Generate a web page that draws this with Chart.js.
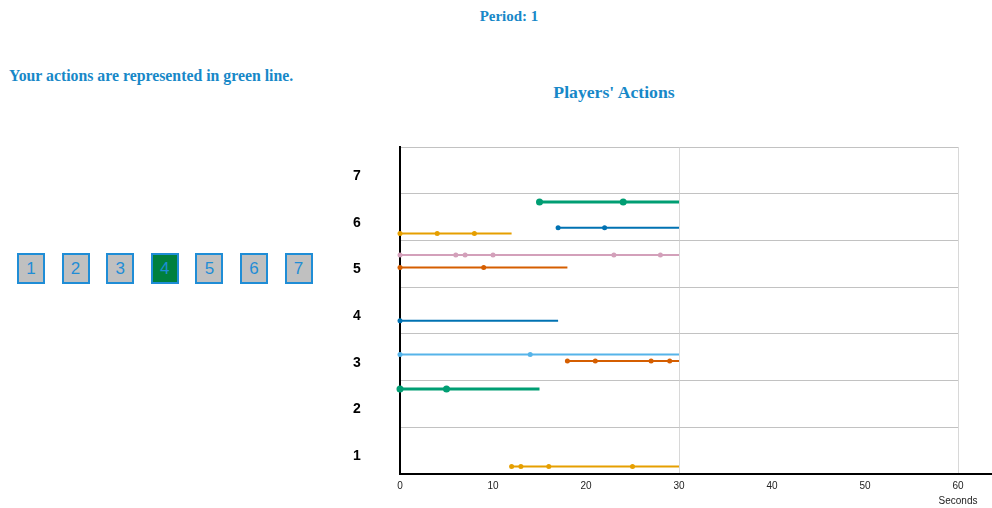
<!DOCTYPE html>
<html>
<head>
<meta charset="utf-8">
<script src="https://cdn.jsdelivr.net/npm/chart.js@4"></script>
<style>
  body { margin: 0; background: #fff; width: 992px; height: 508px; overflow: hidden; position: relative; }
  .blue-text { position: absolute; color: #1788c8; font-family: "Liberation Serif", "Times New Roman", serif; font-weight: bold; white-space: nowrap; }
  #period { left: 509px; top: 7px; transform: translateX(-50%); font-size: 15px; line-height: 18px; }
  #hint { left: 9px; top: 67px; font-size: 15.8px; line-height: 18px; }
  #chartTitle { left: 614px; top: 82px; transform: translateX(-50%); font-size: 17.7px; line-height: 20px; }
  .player-btn { position: absolute; top: 253px; width: 24px; height: 27px; border: 2px solid #1f8dd6;
    background: #c0c0c0; color: #1f8dd6; font-family: "Liberation Sans", Arial, sans-serif; font-size: 17px;
    line-height: 27px; text-align: center; }
  .player-btn.active { background: #00803e; }
  #chartBox { position: absolute; left: 330px; top: 120px; width: 662px; height: 388px; }
</style>
</head>
<body>
<div id="period" class="blue-text">Period: 1</div>
<div id="hint" class="blue-text">Your actions are represented in green line.</div>
<div id="chartTitle" class="blue-text">Players' Actions</div>
<div id="buttons"></div>
<div id="chartBox"><canvas id="actionsChart"></canvas></div>

<script>
// Players shown on the y axis and the current player
const playerLabels = ['1', '2', '3', '4', '5', '6', '7'];
const myPlayer = 4;

// One entry per action line: vertical level, times of actions (dots) and end time
const lineLevels = [5.82, 5.27, 5.15, 4.69, 4.42, 3.28, 2.56, 2.42, 1.82, 0.16];
const actionTimes = [
    [15, 24],
    [17, 22],
    [0, 4, 8],
    [0, 6, 7, 10, 23, 28],
    [0, 9],
    [0],
    [0, 14],
    [18, 21, 27, 29],
    [0, 5],
    [12, 13, 16, 25]
];
const endTimes = [30, 30, 12, 30, 18, 17, 30, 30, 15, 30];
const isMine = [true, false, false, false, false, false, false, false, true, false];

const lineColors = ['#009E73', '#0072B2', '#E69F00', '#D3A0BA', '#D55E00',
                    '#0072B2', '#56B4E9', '#D55E00', '#009E73', '#E69F00'];

document.addEventListener('DOMContentLoaded', () => {
    buildButtons();
    initActionsChart();
});

function buildButtons() {
    const wrap = document.getElementById('buttons');
    playerLabels.forEach((label, i) => {
        const b = document.createElement('div');
        b.className = 'player-btn' + (Number(label) === myPlayer ? ' active' : '');
        b.style.left = (17 + i * 44.6) + 'px';
        b.textContent = label;
        wrap.appendChild(b);
    });
}

function initActionsChart() {
    const ctx = document.getElementById('actionsChart').getContext('2d');

    const datasets = lineLevels.map((level, i) => {
        const pts = actionTimes[i].map(t => ({ x: t, y: level }));
        pts.push({ x: endTimes[i], y: level });
        const r = isMine[i] ? 3.5 : 2.5;
        return {
            data: pts,
            borderColor: lineColors[i],
            backgroundColor: lineColors[i],
            borderWidth: isMine[i] ? 3 : 2,
            pointRadius: pts.map((p, j) => j < pts.length - 1 ? r : 0),
            pointBorderWidth: 0,
            tension: 0,
            clip: false
        };
    });

    // extend the x axis line to the right edge and write the axis title under 60
    const axisExtras = {
        id: 'axisExtras',
        afterDraw(chart) {
            const c = chart.ctx;
            const xs = chart.scales.x;
            c.save();
            c.strokeStyle = '#000';
            c.lineWidth = 2;
            c.beginPath();
            c.moveTo(chart.chartArea.right - 1, xs.top);
            c.lineTo(chart.width, xs.top);
            c.stroke();
            c.fillStyle = '#222';
            c.font = '10px "Liberation Sans", Arial, sans-serif';
            c.textAlign = 'center';
            c.textBaseline = 'middle';
            c.fillText('Seconds', xs.getPixelForValue(60), 381);
            c.restore();
        }
    };

    new Chart(ctx, {
        type: 'line',
        data: { datasets: datasets },
        options: {
            responsive: true,
            maintainAspectRatio: false,
            animation: false,
            layout: { padding: { top: 27, right: 34, bottom: 0, left: 23 } },
            plugins: {
                legend: { display: false },
                tooltip: { enabled: false }
            },
            scales: {
                x: {
                    type: 'linear',
                    min: 0,
                    max: 60,
                    afterFit: (scale) => { scale.height = 34; },
                    ticks: {
                        stepSize: 10,
                        padding: 6,
                        color: '#222',
                        font: { family: '"Liberation Sans", Arial, sans-serif', size: 10 }
                    },
                    grid: {
                        drawTicks: false,
                        color: (c) => (c.tick && c.tick.value > 0 && c.tick.value % 30 === 0) ? '#d8d8d8' : 'rgba(0,0,0,0)'
                    },
                    border: { display: true, color: '#000', width: 2 }
                },
                y: {
                    type: 'linear',
                    min: 0,
                    max: playerLabels.length,
                    afterFit: (scale) => { scale.width = 47; },
                    ticks: {
                        stepSize: 1,
                        padding: 0,
                        crossAlign: 'far',
                        labelOffset: 29,
                        color: '#000',
                        font: { family: '"Liberation Sans", Arial, sans-serif', size: 14, weight: 'bold' },
                        callback: (value) => playerLabels[value - 1] || ''
                    },
                    grid: { drawTicks: false, color: '#c2c2c2' },
                    border: { display: true, color: '#000', width: 2 }
                }
            }
        },
        plugins: [axisExtras]
    });
}
</script>
</body>
</html>
